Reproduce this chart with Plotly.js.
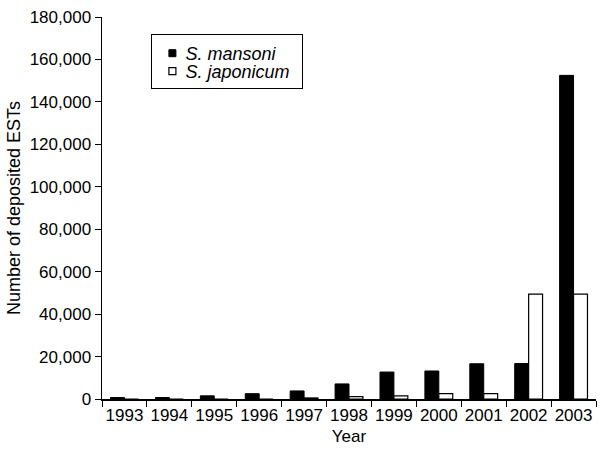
<!DOCTYPE html>
<html>
<head>
<meta charset="utf-8">
<script src="https://cdn.plot.ly/plotly-3.0.1.min.js"></script>
<style>html,body{margin:0;padding:0;background:#fff;}#chart{width:600px;height:460px;}</style>
</head>
<body>
<div id="chart"></div>
<script>
const years = ['1993','1994','1995','1996','1997','1998','1999','2000','2001','2002','2003'];
const mansoni = [700, 700, 1500, 2500, 3800, 7100, 12700, 13200, 16600, 16700, 152500];
const japonicum = [0, 0, 0, 0, 500, 1100, 1500, 2500, 2500, 49400, 49400];
const yTicks = [0,20000,40000,60000,80000,100000,120000,140000,160000,180000];

const font = {family: 'Arial, "Liberation Sans", sans-serif', size: 17, color: '#000'};

const data = [
  {type: 'bar', name: '<i>S. mansoni</i>', x: years, y: mansoni,
   marker: {color: '#000', line: {color: '#000', width: 1}}},
  {type: 'bar', name: '<i>S. japonicum</i>', x: years, y: japonicum,
   marker: {color: '#fff', line: {color: '#000', width: 1.2}}}
];

const layout = {
  width: 600, height: 460,
  margin: {l: 102, r: 4, t: 17, b: 61},
  paper_bgcolor: '#fff', plot_bgcolor: '#fff',
  font: font,
  barmode: 'group', bargap: 0.38, bargroupgap: 0,
  showlegend: true,
  legend: {x: 0.1, y: 0.955, xanchor: 'left', yanchor: 'top',
           bordercolor: '#000', borderwidth: 1, bgcolor: '#fff',
           font: {family: font.family, size: 18, color: '#000'},
           tracegroupgap: 0},
  xaxis: {type: 'category', tickson: 'boundaries', ticks: 'outside', ticklen: 6, tickangle: 0,
          tickcolor: '#000', showline: true, linecolor: '#000', linewidth: 1.5,
          showgrid: false, zeroline: false, tickfont: font,
          title: {text: 'Year', font: font, standoff: 6}},
  yaxis: {range: [0, 180000], tickvals: yTicks, ticktext: yTicks.map(v => v.toLocaleString('en-US')),
          ticks: 'outside', ticklen: 6, tickcolor: '#000', showline: true, linecolor: '#000', linewidth: 1.5,
          showgrid: false, zeroline: false, tickfont: font,
          title: {text: 'Number of deposited ESTs', font: {family: font.family, size: 18, color: '#000'}, standoff: 4}}
};

Plotly.newPlot('chart', data, layout, {displayModeBar: false, staticPlot: true}).then(function (gd) {
  // compact legend styling: small square swatches, tighter rows
  const leg = gd.querySelector('.legend');
  if (!leg) return;
  const items = leg.querySelectorAll('.traces');
  const rowY = [19, 37];
  items.forEach(function (it, i) {
    it.setAttribute('transform', 'translate(1,' + rowY[i] + ')');
    it.querySelectorAll('.legendpoints path').forEach(function (p) {
      p.setAttribute('d', 'M3.5,3.5H-3.5V-3.5H3.5Z');
    });
    const t = it.querySelector('.legendtext');
    if (t) t.setAttribute('x', 33);
  });
  const bg = leg.querySelector('rect.bg');
  if (bg) { bg.setAttribute('height', 54); bg.setAttribute('width', 151); }
});
</script>
</body>
</html>
